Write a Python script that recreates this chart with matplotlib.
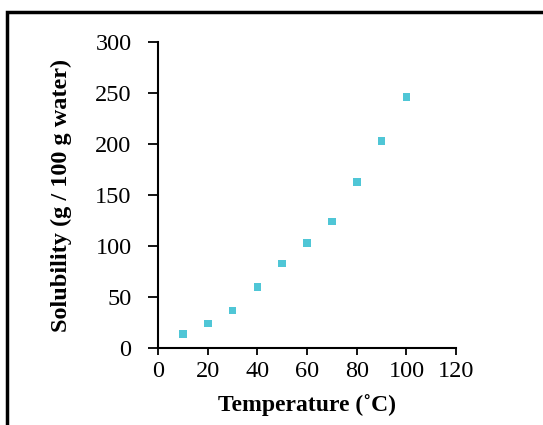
import matplotlib
matplotlib.use("Agg")
import matplotlib.pyplot as plt
from matplotlib.patches import Rectangle

temperature = [10, 20, 30, 40, 50, 60, 70, 80, 90, 100]
solubility = [14, 24, 37, 60, 83, 103, 124, 163, 203, 246]
x_ticks = [0, 20, 40, 60, 80, 100, 120]
y_ticks = [0, 50, 100, 150, 200, 250, 300]

plt.rcParams['font.family'] = ['Liberation Serif', 'DejaVu Serif']

fig = plt.figure(figsize=(5.43, 4.25), dpi=100)
ax = fig.add_axes([0.291, 0.181, 0.549, 0.72])

ax.scatter(temperature, solubility, marker='s', s=30, color='#4fc6d6',
           edgecolors='none', zorder=3)

ax.set_xlim(0, 120)
ax.set_ylim(0, 300)
ax.set_xticks(x_ticks)
ax.set_yticks(y_ticks)
ax.tick_params(axis='y', direction='out', length=7, width=1.3, labelsize=17.5, pad=12)
ax.tick_params(axis='x', direction='out', length=5, width=1.3, labelsize=17.5, pad=4)
for s in ['top', 'right']:
    ax.spines[s].set_visible(False)
for s in ['left', 'bottom']:
    ax.spines[s].set_linewidth(1.5)

ax.set_xlabel('Temperature (˚C)', fontsize=17, fontweight='bold', labelpad=9)
ax.set_ylabel('Solubility (g / 100 g water)', fontsize=17.5, fontweight='bold', labelpad=17)

fig.patches.append(Rectangle((0.013, -0.05), 1.2, 1.022, transform=fig.transFigure,
                             fill=False, edgecolor='black', linewidth=2.5))

fig.savefig('out.png', dpi=100)
